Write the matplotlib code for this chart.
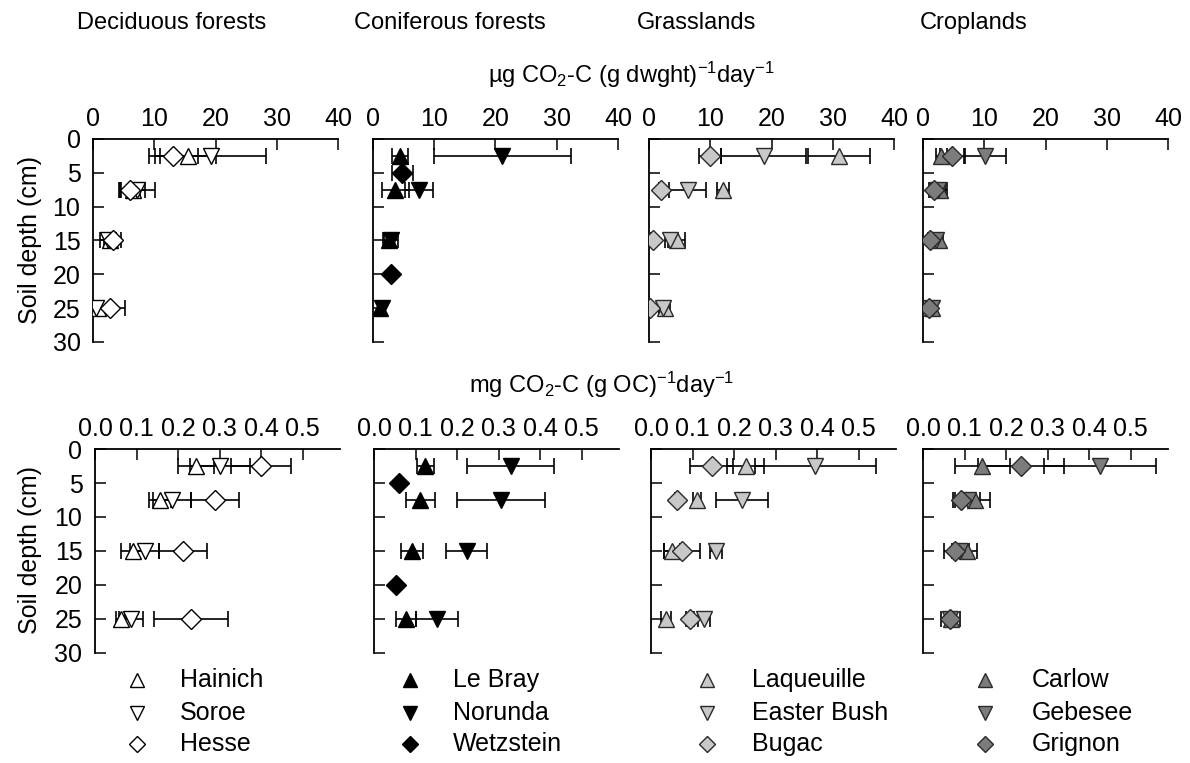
import matplotlib
matplotlib.use("Agg")
import matplotlib.pyplot as plt

plt.rcParams['font.family'] = ['Liberation Sans', 'DejaVu Sans']
plt.rcParams['mathtext.fontset'] = 'custom'
plt.rcParams['mathtext.rm'] = 'Liberation Sans'
plt.rcParams['mathtext.it'] = 'Liberation Sans'
plt.rcParams['mathtext.default'] = 'regular'

# ---------------- data ----------------
biome_titles = ["Deciduous forests", "Coniferous forests", "Grasslands", "Croplands"]
top_unit = "µg CO$_2$-C (g dwght)$^{-1}$day$^{-1}$"
bot_unit = "mg CO$_2$-C (g OC)$^{-1}$day$^{-1}$"
ylabel = "Soil depth (cm)"
top_xticks = [0, 10, 20, 30, 40]
bot_xticks = [0.0, 0.1, 0.2, 0.3, 0.4, 0.5]
yticks = [0, 5, 10, 15, 20, 25, 30]

depth4 = [2.5, 7.5, 15, 25]

# Deciduous forests
hainich_top = [15.5, 6.5, 2.8, 0.8];   hainich_top_err = [4.5, 2.0, 1.0, 0.5]
hainich_bot = [0.243, 0.157, 0.092, 0.062]; hainich_bot_err = [0.043, 0.026, 0.030, 0.011]
soroe_top = [19.2, 7.2, 2.5, 0.5];     soroe_top_err = [9.0, 2.9, 1.3, 0.6]
soroe_bot = [0.301, 0.185, 0.120, 0.087]; soroe_bot_err = [0.073, 0.045, 0.035, 0.028]
hesse_top = [13.1, 6.0, 3.3, 2.7];     hesse_top_err = [4.0, 1.6, 1.2, 2.6]
hesse_bot = [0.400, 0.289, 0.211, 0.231]; hesse_bot_err = [0.073, 0.058, 0.058, 0.089]

# Coniferous forests
lebray_top = [4.4, 3.6, 2.6, 1.2];     lebray_top_err = [1.3, 2.2, 0.8, 0.4]
lebray_bot = [0.124, 0.111, 0.092, 0.077]; lebray_bot_err = [0.021, 0.035, 0.026, 0.023]
norunda_top = [21.1, 7.5, 2.9, 1.4];   norunda_top_err = [11.2, 2.3, 1.2, 0.5]
norunda_bot = [0.329, 0.307, 0.223, 0.152]; norunda_bot_err = [0.105, 0.106, 0.050, 0.050]
wetz_depth = [5, 20]
wetz_top = [4.8, 2.9];                 wetz_top_err = [1.7, 0.0]
wetz_bot = [0.059, 0.052];             wetz_bot_err = [0.0, 0.0]

# Grasslands
laq_top = [31.0, 12.1, 4.5, 2.6];      laq_top_err = [5.1, 1.0, 1.4, 0.9]
laq_bot = [0.228, 0.111, 0.051, 0.035]; laq_bot_err = [0.045, 0.010, 0.020, 0.012]
eb_top = [18.7, 6.3, 3.5, 2.3];        eb_top_err = [6.9, 3.0, 0.9, 0.6]
eb_bot = [0.396, 0.219, 0.156, 0.127]; eb_bot_err = [0.146, 0.062, 0.015, 0.015]
bugac_top = [10.0, 1.9, 0.6, 0.2];     bugac_top_err = [1.8, 0.3, 0.2, 0.1]
bugac_bot = [0.146, 0.063, 0.075, 0.094]; bugac_bot_err = [0.051, 0.005, 0.044, 0.010]

# Croplands
carlow_top = [2.95, 2.7, 2.6, 1.5];    carlow_top_err = [0.9, 0.9, 0.6, 0.4]
carlow_bot = [0.143, 0.125, 0.105, 0.068]; carlow_bot_err = [0.066, 0.037, 0.025, 0.012]
geb_top = [10.2, 2.4, 2.2, 1.4];       geb_top_err = [3.4, 1.5, 0.5, 0.4]
geb_bot = [0.426, 0.108, 0.090, 0.066]; geb_bot_err = [0.134, 0.030, 0.020, 0.010]
grig_top = [4.75, 1.75, 1.2, 0.9];     grig_top_err = [2.0, 0.5, 0.4, 0.3]
grig_bot = [0.236, 0.092, 0.076, 0.066]; grig_bot_err = [0.104, 0.020, 0.025, 0.022]

# ---------------- styling ----------------
fills = ['white', 'black', '#c8c8c8', '#7c7c7c']
edges = ['black', 'black', '#2a2a2a', '#2a2a2a']
markers = ['^', 'v', 'D']
msizes = {'^': 11, 'v': 11, 'D': 10}

groups = [
    [("Hainich", depth4, hainich_top, hainich_top_err, hainich_bot, hainich_bot_err),
     ("Soroe", depth4, soroe_top, soroe_top_err, soroe_bot, soroe_bot_err),
     ("Hesse", depth4, hesse_top, hesse_top_err, hesse_bot, hesse_bot_err)],
    [("Le Bray", depth4, lebray_top, lebray_top_err, lebray_bot, lebray_bot_err),
     ("Norunda", depth4, norunda_top, norunda_top_err, norunda_bot, norunda_bot_err),
     ("Wetzstein", wetz_depth, wetz_top, wetz_top_err, wetz_bot, wetz_bot_err)],
    [("Laqueuille", depth4, laq_top, laq_top_err, laq_bot, laq_bot_err),
     ("Easter Bush", depth4, eb_top, eb_top_err, eb_bot, eb_bot_err),
     ("Bugac", depth4, bugac_top, bugac_top_err, bugac_bot, bugac_bot_err)],
    [("Carlow", depth4, carlow_top, carlow_top_err, carlow_bot, carlow_bot_err),
     ("Gebesee", depth4, geb_top, geb_top_err, geb_bot, geb_bot_err),
     ("Grignon", depth4, grig_top, grig_top_err, grig_bot, grig_bot_err)],
]

W, H = 1190, 763
fig = plt.figure(figsize=(W / 100, H / 100), dpi=100)

def px(x0, y_top, x1, y_bot):
    return [x0 / W, 1 - y_bot / H, (x1 - x0) / W, (y_bot - y_top) / H]

top_lefts = [93, 373, 649, 923]
bot_lefts = [95, 374, 651, 923]
panel_w = 245
tick_fs = 18

def style_axis(ax, xlim, xticks, fmt, left_labels):
    ax.set_xlim(*xlim)
    ax.set_ylim(30, 0)
    for s in ['right', 'bottom']:
        ax.spines[s].set_visible(False)
    for s in ['top', 'left']:
        ax.spines[s].set_linewidth(1.3)
    ax.xaxis.set_ticks_position('top')
    ax.set_xticks(xticks)
    ax.set_xticklabels([fmt(t) for t in xticks])
    ax.set_yticks(yticks)
    ax.set_yticklabels([str(t) for t in yticks] if left_labels else [])
    ax.tick_params(axis='x', direction='in', length=8, width=1.1, pad=6,
                   labelsize=tick_fs, top=True, bottom=False,
                   labeltop=True, labelbottom=False)
    ax.tick_params(axis='y', direction='in', length=8, width=1.1, pad=9,
                   labelsize=tick_fs)
    ax.patch.set_alpha(0)

for col, grp in enumerate(groups):
    for row in range(2):
        if row == 0:
            ax = fig.add_axes(px(top_lefts[col], 139, top_lefts[col] + panel_w, 342))
        else:
            ax = fig.add_axes(px(bot_lefts[col], 449, bot_lefts[col] + panel_w, 653))
        for i, (name, d, tv, te, bv, be) in enumerate(grp):
            vals = tv if row == 0 else bv
            errs = te if row == 0 else be
            m = markers[i]
            ax.errorbar(vals, d, xerr=errs, fmt='none', ecolor='black',
                        elinewidth=1.2, capsize=6, capthick=1.2, zorder=2)
            ax.plot(vals, d, linestyle='none', marker=m, markersize=msizes[m],
                    markerfacecolor=fills[col], markeredgecolor=edges[col],
                    markeredgewidth=1.0, zorder=3)
        if row == 0:
            style_axis(ax, (0, 40), top_xticks, lambda t: "%d" % t, col == 0)
        else:
            style_axis(ax, (0, 0.59), bot_xticks, lambda t: "%.1f" % t, col == 0)

# column titles
title_x = [172, 450, 697, 974]
for t, x in zip(biome_titles, title_x):
    fig.text(x / W, 1 - 23 / H, t, ha='center', va='center', fontsize=17)

fig.text(631 / W, 1 - 75 / H, top_unit, ha='center', va='center', fontsize=17)
fig.text(602 / W, 1 - 385 / H, bot_unit, ha='center', va='center', fontsize=17)

fig.text(30 / W, 1 - 240 / H, ylabel, rotation=90, ha='center', va='center', fontsize=18)
fig.text(30 / W, 1 - 550 / H, ylabel, rotation=90, ha='center', va='center', fontsize=18)

# legend
leg_marker_x = [137, 410, 707, 985]
leg_label_x = [180, 453, 752, 1032]
leg_rows_y = [680, 713, 744]
lax = fig.add_axes([0, 0, 1, 1])
lax.set_xlim(0, W)
lax.set_ylim(H, 0)
lax.axis('off')
lax.patch.set_alpha(0)
leg_ms = {'^': 10, 'v': 10, 'D': 8}
for col, grp in enumerate(groups):
    for i, entry in enumerate(grp):
        m = markers[i]
        lax.plot([leg_marker_x[col]], [leg_rows_y[i]], linestyle='none', marker=m,
                 markersize=leg_ms[m], markerfacecolor=fills[col],
                 markeredgecolor=edges[col], markeredgewidth=1.0)
        lax.text(leg_label_x[col], leg_rows_y[i], entry[0], ha='left',
                 va='center', fontsize=18)

fig.savefig("out.png", dpi=100)
